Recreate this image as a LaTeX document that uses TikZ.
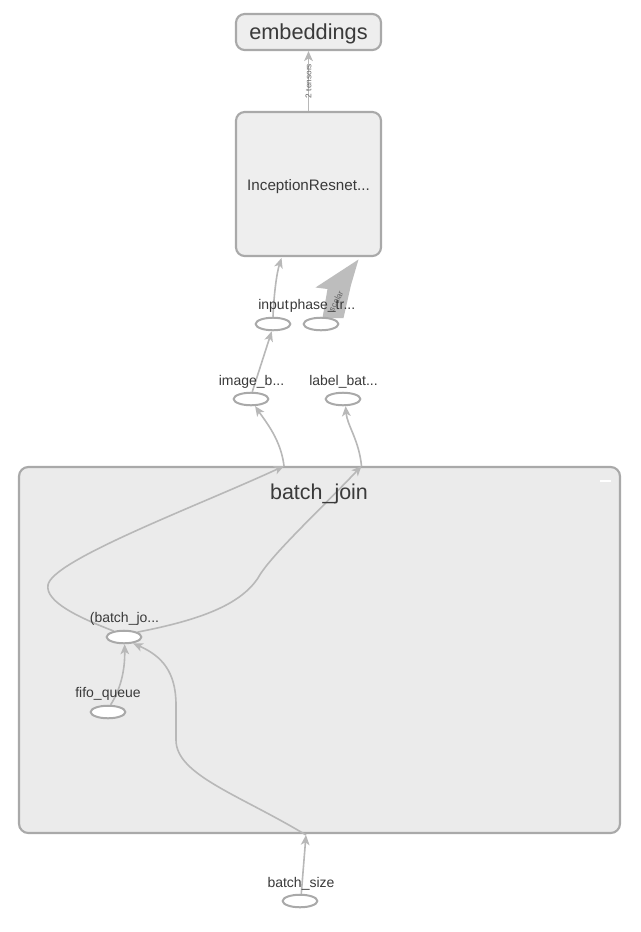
\documentclass[tikz,border=0pt]{standalone}
\usepackage{fontspec}
\setmainfont{Liberation Sans}
\usetikzlibrary{shapes.geometric,arrows.meta}
\definecolor{boxgray}{HTML}{A9A9A9}
\definecolor{boxfill}{HTML}{EEEEEE}
\definecolor{grpfill}{HTML}{EBEBEB}
\definecolor{edgegray}{HTML}{B8B8B8}
\definecolor{thickgray}{HTML}{BDBDBD}
\definecolor{txt}{HTML}{3A3A3A}
\definecolor{elbl}{HTML}{666666}
\pgfdeclarelayer{boxlayer}
\pgfdeclarelayer{edgelayer}
\pgfsetlayers{boxlayer,edgelayer,main}
\begin{document}
\begin{tikzpicture}[x=0.75pt,y=-0.75pt,
 box/.style={draw=boxgray,line width=1.6pt,fill=boxfill,rounded corners=6.5pt,inner sep=0pt},
 grp/.style={draw=boxgray,line width=1.6pt,fill=grpfill,rounded corners=7pt,inner sep=0pt},
 op/.style={ellipse,draw=boxgray,fill=white,line width=1.5pt,minimum width=26pt,minimum height=9.4pt,inner sep=0pt},
 lbl/.style={text=txt,font=\fontsize{10.5}{12}\selectfont,anchor=base,inner sep=0pt},
 title/.style={text=txt,anchor=base,inner sep=0pt},
 elabel/.style={text=elbl,font=\fontsize{6.2}{7}\selectfont,inner sep=0pt},
 edge/.style={draw=edgegray,line width=1.2pt,-{Stealth[length=7.5pt,width=6.5pt,inset=2pt]}},
]
\useasboundingbox (0,0) rectangle (641,932);

\begin{pgfonlayer}{boxlayer}
\fill[white] (0,0) rectangle (641,932);
% group box
\node[grp,minimum width=450.75pt,minimum height=274.5pt] (grp) at (319.5,650) {};
\fill[white] (600,480) rectangle (611,482.2);
% top boxes
\node[box,minimum width=108.75pt,minimum height=27pt] (emb) at (308.5,32) {};
\node[box,minimum width=108.75pt,minimum height=108pt] (incep) at (308.5,184) {};
\end{pgfonlayer}

\node[title,font=\fontsize{16.1}{18}\selectfont] (grptitle) at (319,499) {batch\_join};
\node[title,font=\fontsize{16.3}{18}\selectfont] (embt) at (308.5,39.5) {embeddings};
\node[title,font=\fontsize{11.4}{13}\selectfont] (incept) at (308.5,190) {InceptionResnet...};

% op nodes
\node[op] (input) at (273,324) {};
\node[op] (phase) at (321,324) {};
\node[op] (imageb) at (251,399) {};
\node[op] (labelb) at (343,399) {};
\node[op] (bjo) at (124,637) {};
\node[op] (fifo) at (108,712) {};
\node[op] (bsize) at (300,901) {};

% labels
\node[lbl] (tinput) at (273.5,309.3) {input};
\node[lbl] (tphase) at (322.5,309.3) {phase\_tr...};
\node[lbl] (timageb) at (251.5,385) {image\_b...};
\node[lbl] (tlabelb) at (343.5,385) {label\_bat...};
\node[lbl] (tbjo) at (124.5,622) {(batch\_jo...};
\node[lbl] (tfifo) at (108,697) {fifo\_queue};
\node[lbl] (tbsize) at (301,887.3) {batch\_size};

% ports
\coordinate (pIn) at (281.5,258);
\coordinate (pTip) at (358.5,259.5);
\coordinate (gImg) at (284,466);
\coordinate (gLab) at (361.5,466);
\coordinate (gBot) at (306,835);

% edges
\begin{pgfonlayer}{edgelayer}
\draw[edge] (incep.north) -- node[elabel,rotate=90] (l2t) {2 tensors} (emb.south);
\draw[edge] (input.north) .. controls (274,292) and (277,272) .. (pIn);
\fill[thickgray] (322.5,318) -- (327.5,289) -- (315.5,287.5) -- (pTip) -- (351,285) -- (343.5,318) -- cycle;
\node[elabel,rotate=62] (lsc) at (336,301) {scalar};
\draw[edge] (imageb.80) -- (input.260);
\draw[edge] (gImg) .. controls (281,440) and (266,422) .. (imageb.-60);
\draw[edge] (gLab) .. controls (359,440) and (347,425) .. (labelb.-70);
\draw[edge] (bjo.150) .. controls (80,618) and (45,602) .. (48,585)
                      .. controls (52,560) and (200,505) .. (gImg);
\draw[edge] (bjo.20) .. controls (200,620) and (240,605) .. (258,578)
                     .. controls (270,556) and (320,510) .. (gLab);
\draw[edge] (fifo.70) .. controls (120,690) and (125,672) .. (bjo.-85);
\draw[edge] (bsize.80) -- (gBot);
\draw[edge] (gBot) .. controls (240,795) and (176,775) .. (176,740) -- (176,705)
                   .. controls (176,672) and (162,656) .. (bjo.-35);
\end{pgfonlayer}
\end{tikzpicture}
\end{document}
